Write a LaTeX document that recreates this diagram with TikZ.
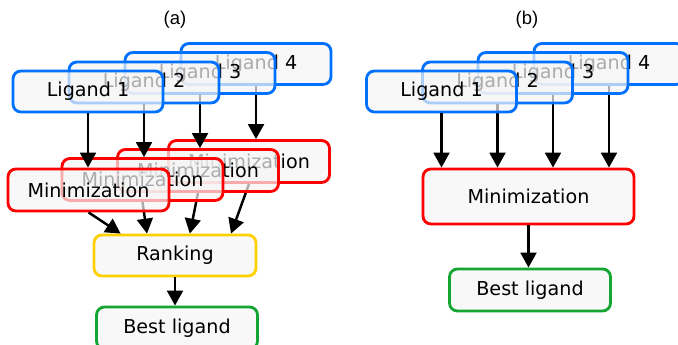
\documentclass[tikz,border=0pt]{standalone}
\usepackage{fontspec}
\setmainfont{DejaVu Sans}
\newfontfamily\panelfont{Liberation Sans}
\usetikzlibrary{arrows.meta,calc}
\definecolor{ligblue}{RGB}{0,112,255}
\definecolor{minred}{RGB}{255,0,0}
\definecolor{rankyellow}{RGB}{255,208,0}
\definecolor{bestgreen}{RGB}{20,165,50}
\definecolor{boxgray}{RGB}{245,245,245}

\begin{document}
\begin{tikzpicture}[
    stepbox/.style={rectangle, rounded corners=4.5pt, line width=1.6pt, fill=boxgray,
                    fill opacity=0.7, draw opacity=1, text opacity=1, inner sep=0pt,
                    font=\fontsize{10.9}{13}\selectfont},
    ligbox/.style={stepbox, draw=ligblue, minimum width=3cm, minimum height=0.82cm},
    minbox/.style={stepbox, draw=minred, minimum width=3.22cm, minimum height=0.84cm},
    rankbox/.style={stepbox, draw=rankyellow, minimum width=3.24cm, minimum height=0.82cm},
    bestbox/.style={stepbox, draw=bestgreen, minimum width=3.22cm, minimum height=0.84cm},
    flow/.style={-{Triangle[width=9pt,length=8.5pt]}, line width=1.4pt},
    paneltitle/.style={font=\panelfont\fontsize{10.5}{12}\selectfont}
]
\useasboundingbox (0,0) rectangle (13.56,6.9);

% (a) one minimization per ligand, then ranking
\node[paneltitle] (ta) at (3.5, 6.5) {(a)};
\node[rankbox] (rank) at (3.50, 1.79) {Ranking};
\node[bestbox] (besta) at (3.54, 0.34) {Best ligand};
\draw[flow] (rank.south) -- (rank.south |- besta.north);

% each ligand column, back to front
\node[ligbox] (la4) at (5.12, 5.62) {Ligand 4};
\node[minbox] (ma4) at (4.98, 3.67) {Minimization};
\draw[flow] (la4.south) -- (la4.south |- ma4.north);
\draw[flow] (ma4.south) -- ($(rank.north west)!0.84!(rank.north east)$);

\node[ligbox] (la3) at (4.00, 5.44) {Ligand 3};
\node[minbox] (ma3) at (3.96, 3.49) {Minimization};
\draw[flow] (la3.south) -- (la3.south |- ma3.north);
\draw[flow] (ma3.south) -- ($(rank.north west)!0.59!(rank.north east)$);

\node[ligbox] (la2) at (2.88, 5.25) {Ligand 2};
\node[minbox] (ma2) at (2.85, 3.31) {Minimization};
\draw[flow] (la2.south) -- (la2.south |- ma2.north);
\draw[flow] (ma2.south) -- ($(rank.north west)!0.33!(rank.north east)$);

\node[ligbox] (la1) at (1.76, 5.07) {Ligand 1};
\node[minbox] (ma1) at (1.77, 3.10) {Minimization};
\draw[flow] (la1.south) -- (la1.south |- ma1.north);
\draw[flow] (ma1.south) -- ($(rank.north west)!0.17!(rank.north east)$);

% (b) one minimization for all ligands
\node[paneltitle] (tb) at (10.54, 6.5) {(b)};
\node[minbox, minimum width=4.22cm, minimum height=1.1cm] (minb) at (10.57, 2.97) {Minimization};
\node[bestbox] (bestb) at (10.60, 1.10) {Best ligand};
\draw[flow] (minb.south) -- (minb.south |- bestb.north);

\node[ligbox] (lb4) at (12.18, 5.62) {Ligand 4};
\draw[flow] (lb4.south) -- (lb4.south |- minb.north);
\node[ligbox] (lb3) at (11.06, 5.44) {Ligand 3};
\draw[flow] (lb3.south) -- (lb3.south |- minb.north);
\node[ligbox] (lb2) at (9.95, 5.25) {Ligand 2};
\draw[flow] (lb2.south) -- (lb2.south |- minb.north);
\node[ligbox] (lb1) at (8.83, 5.07) {Ligand 1};
\draw[flow] (lb1.south) -- (lb1.south |- minb.north);
\end{tikzpicture}
\end{document}
